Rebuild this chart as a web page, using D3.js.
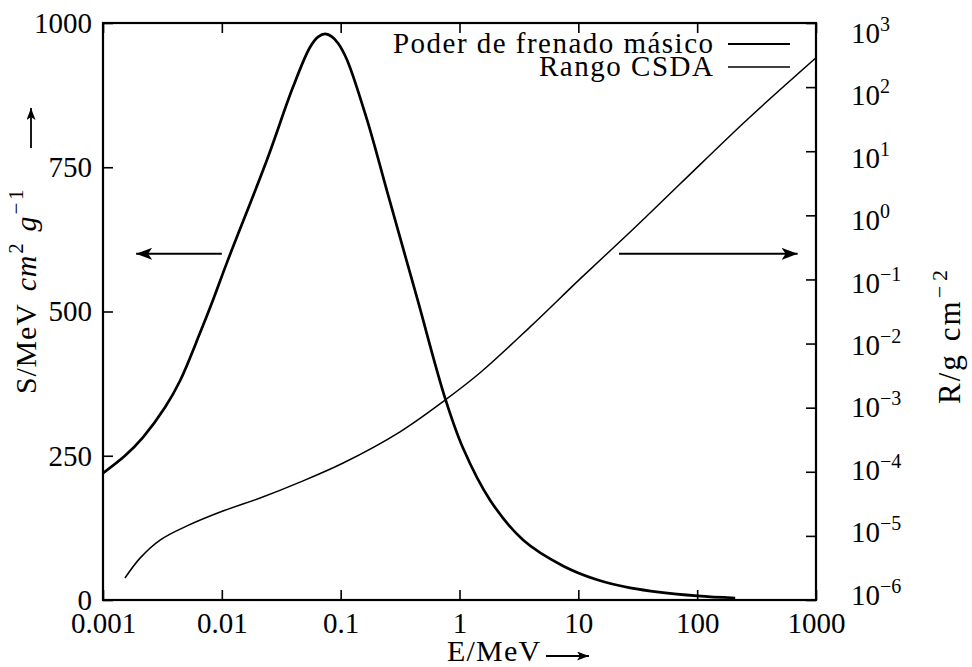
<!DOCTYPE html>
<html>
<head>
<meta charset="utf-8">
<script src="https://cdn.jsdelivr.net/npm/d3@7"></script>
<style>
  body { margin: 0; background: #fff; }
  svg text { font-family: "Liberation Serif", "DejaVu Serif", serif; }
</style>
</head>
<body>
<svg id="chart" width="972" height="667"></svg>
<script>
// stopping power (left axis, linear)
var energyS = [0.001, 0.00153, 0.00217, 0.00333, 0.00445, 0.00656, 0.00843, 0.0111, 0.024, 0.0397, 0.0552, 0.0646, 0.074, 0.0847, 0.0951, 0.1132, 0.1668, 0.2506, 0.44, 0.756, 1.072, 1.81, 3.43, 7.45, 14.4, 27.3, 100, 209];
var stopping = [220, 250, 282, 334, 380, 463, 520, 586, 763, 889, 958, 976, 981, 976, 965, 936, 832, 702, 523, 350, 263, 173, 104, 59, 35, 21, 7, 3.5];
// CSDA range (right axis, log)
var energyR = [0.00153, 0.00205, 0.00302, 0.00509, 0.0102, 0.021, 0.0455, 0.105, 0.316, 0.76, 1.49, 3.93, 10.35, 27.3, 72, 263, 1000];
var range = [2.2e-6, 4.5e-6, 8.6e-6, 1.43e-5, 2.44e-5, 3.9e-5, 6.9e-5, 1.37e-4, 4.2e-4, 1.32e-3, 3.5e-3, 1.82e-2, 0.102, 0.55, 3.1, 31, 286];

var xTicks = [0.001, 0.01, 0.1, 1, 10, 100, 1000];
var xTickLabels = ["0.001", "0.01", "0.1", "1", "10", "100", "1000"];
var sTicks = [0, 250, 500, 750, 1000];
var rTicks = [1e-6, 1e-5, 1e-4, 1e-3, 1e-2, 1e-1, 1e0, 1e1, 1e2, 1e3];
var rExponents = ["−6", "−5", "−4", "−3", "−2", "−1", "0", "1", "2", "3"];
var legendLabels = ["Poder de frenado másico", "Rango CSDA"];
// arrows pointing to each axis: [E from, E to, S level]
var axisArrows = [[0.01, 0.0019, 600], [22, 700, 600]];

var FONT = "Liberation Serif, DejaVu Serif, serif";

function drawChart(){
  var pLeft = 103, pTop = 23, pRight = 816, pBottom = 600;
  var svg = d3.select("#chart");

  var x = d3.scaleLog().domain([0.001, 1000]).range([pLeft, pRight]);
  var yS = d3.scaleLinear().domain([0, 1000]).range([pBottom, pTop]);
  var yR = d3.scaleLog().domain([1e-6, 1e3]).range([pBottom, pTop]);
  // label rows of the right axis sit a little tighter than the ticks
  var yRLabel = d3.scaleLog().domain([1e-6, 1e3]).range([595, 33]);

  var defs = svg.append("defs");
  defs.append("marker").attr("id", "head").attr("markerUnits", "userSpaceOnUse")
    .attr("markerWidth", 18).attr("markerHeight", 12).attr("refX", 16).attr("refY", 6)
    .attr("orient", "auto")
    .append("path").attr("d", "M0,0 L16,6 L0,12 L4,6 Z").attr("fill", "#000");
  defs.append("marker").attr("id", "smallhead").attr("markerUnits", "userSpaceOnUse")
    .attr("markerWidth", 13).attr("markerHeight", 9).attr("refX", 12).attr("refY", 4.5)
    .attr("orient", "auto")
    .append("path").attr("d", "M0,0 L12,4.5 L0,9 L3,4.5 Z").attr("fill", "#000");
  defs.append("clipPath").attr("id", "plotclip").append("rect")
    .attr("x", pLeft).attr("y", pTop).attr("width", pRight - pLeft).attr("height", pBottom - pTop);

  // axes, ticks point inward
  svg.append("g").attr("transform", "translate(0," + pBottom + ")")
    .call(d3.axisBottom(x).tickValues(xTicks).tickFormat(function(d, i){ return xTickLabels[i]; })
      .tickSizeInner(-10).tickSizeOuter(0).tickPadding(12));
  svg.append("g").attr("transform", "translate(0," + pTop + ")")
    .call(d3.axisTop(x).tickValues(xTicks).tickFormat("").tickSizeInner(-10).tickSizeOuter(0));
  svg.append("g").attr("transform", "translate(" + pLeft + ",0)")
    .call(d3.axisLeft(yS).tickValues(sTicks).tickFormat(d3.format("d"))
      .tickSizeInner(-10).tickSizeOuter(0).tickPadding(11));
  var gr = svg.append("g").attr("transform", "translate(" + pRight + ",0)")
    .call(d3.axisRight(yR).tickValues(rTicks).tickFormat("").tickSizeInner(-10).tickSizeOuter(0).tickPadding(35));

  svg.selectAll(".domain").remove();
  svg.selectAll(".tick line").attr("stroke", "#000").attr("stroke-width", 1.6);
  svg.selectAll(".tick text").attr("font-family", FONT).attr("font-size", 29).attr("fill", "#000");

  gr.selectAll(".tick text").each(function(d, i){
    var t = d3.select(this);
    t.attr("y", yRLabel(d) - yR(d));
    t.append("tspan").text("10");
    t.append("tspan").attr("dy", -12).attr("font-size", 20).text(rExponents[i]);
  });

  // frame
  svg.append("rect").attr("x", pLeft).attr("y", pTop).attr("width", pRight - pLeft).attr("height", pBottom - pTop)
    .attr("fill", "none").attr("stroke", "#000").attr("stroke-width", 2.2);

  var plot = svg.append("g").attr("clip-path", "url(#plotclip)");

  var lineS = d3.line().x(function(d){ return x(d[0]); }).y(function(d){ return yS(d[1]); }).curve(d3.curveCatmullRom.alpha(0.5));
  var lineR = d3.line().x(function(d){ return x(d[0]); }).y(function(d){ return yR(d[1]); }).curve(d3.curveCatmullRom.alpha(0.5));

  plot.append("path").datum(d3.zip(energyS, stopping)).attr("d", lineS)
    .attr("fill", "none").attr("stroke", "#000").attr("stroke-width", 2.7).attr("stroke-linejoin", "round");
  plot.append("path").datum(d3.zip(energyR, range)).attr("d", lineR)
    .attr("fill", "none").attr("stroke", "#000").attr("stroke-width", 1.5).attr("stroke-linejoin", "round");

  axisArrows.forEach(function(a){
    svg.append("line").attr("x1", x(a[0])).attr("x2", x(a[1])).attr("y1", yS(a[2])).attr("y2", yS(a[2]))
      .attr("stroke", "#000").attr("stroke-width", 2).attr("marker-end", "url(#head)");
  });

  // legend
  var legend = svg.append("g").attr("font-size", 29).attr("font-family", FONT);
  legendLabels.forEach(function(label, i){
    var ly = 44 + i * 23;
    legend.append("text").attr("x", 713).attr("y", ly + 9).attr("text-anchor", "end")
      .attr("textLength", i == 0 ? 320 : 174).attr("lengthAdjust", "spacing").text(label);
    legend.append("line").attr("x1", 728).attr("x2", 790).attr("y1", ly).attr("y2", ly)
      .attr("stroke", "#000").attr("stroke-width", i == 0 ? 2 : 1.6);
  });

  // axis titles
  var ylab = svg.append("text").attr("transform", "translate(36,394) rotate(-90)")
    .attr("font-size", 30).attr("font-family", FONT).attr("letter-spacing", 0.8);
  ylab.append("tspan").text("S/MeV");
  ylab.append("tspan").attr("dx", 12).attr("font-style", "italic").text("cm");
  ylab.append("tspan").attr("dx", 1).attr("dy", -13).attr("font-size", 21).text("2");
  ylab.append("tspan").attr("dx", 11).attr("dy", 13).attr("font-style", "italic").text("g");
  ylab.append("tspan").attr("dx", 1).attr("dy", -13).attr("font-size", 21).text("−");
  ylab.append("tspan").attr("dx", 2).attr("font-size", 21).text("1");
  svg.append("line").attr("x1", 31).attr("x2", 31).attr("y1", 148).attr("y2", 108)
    .attr("stroke", "#000").attr("stroke-width", 1.8).attr("marker-end", "url(#smallhead)");

  var rlab = svg.append("text").attr("transform", "translate(960,404) rotate(-90)")
    .attr("font-size", 31).attr("font-family", FONT).attr("letter-spacing", 2);
  rlab.append("tspan").text("R/g");
  rlab.append("tspan").attr("dx", 12).text("cm");
  rlab.append("tspan").attr("dx", 1).attr("dy", -13).attr("font-size", 22).text("−");
  rlab.append("tspan").attr("dx", 3).attr("font-size", 22).text("2");

  svg.append("text").attr("x", 447).attr("y", 661).attr("font-size", 30).attr("font-family", FONT)
    .attr("letter-spacing", 1.2).text("E/MeV");
  svg.append("line").attr("x1", 546).attr("x2", 589).attr("y1", 656).attr("y2", 656)
    .attr("stroke", "#000").attr("stroke-width", 1.8).attr("marker-end", "url(#smallhead)");
}

drawChart();
</script>
</body>
</html>
